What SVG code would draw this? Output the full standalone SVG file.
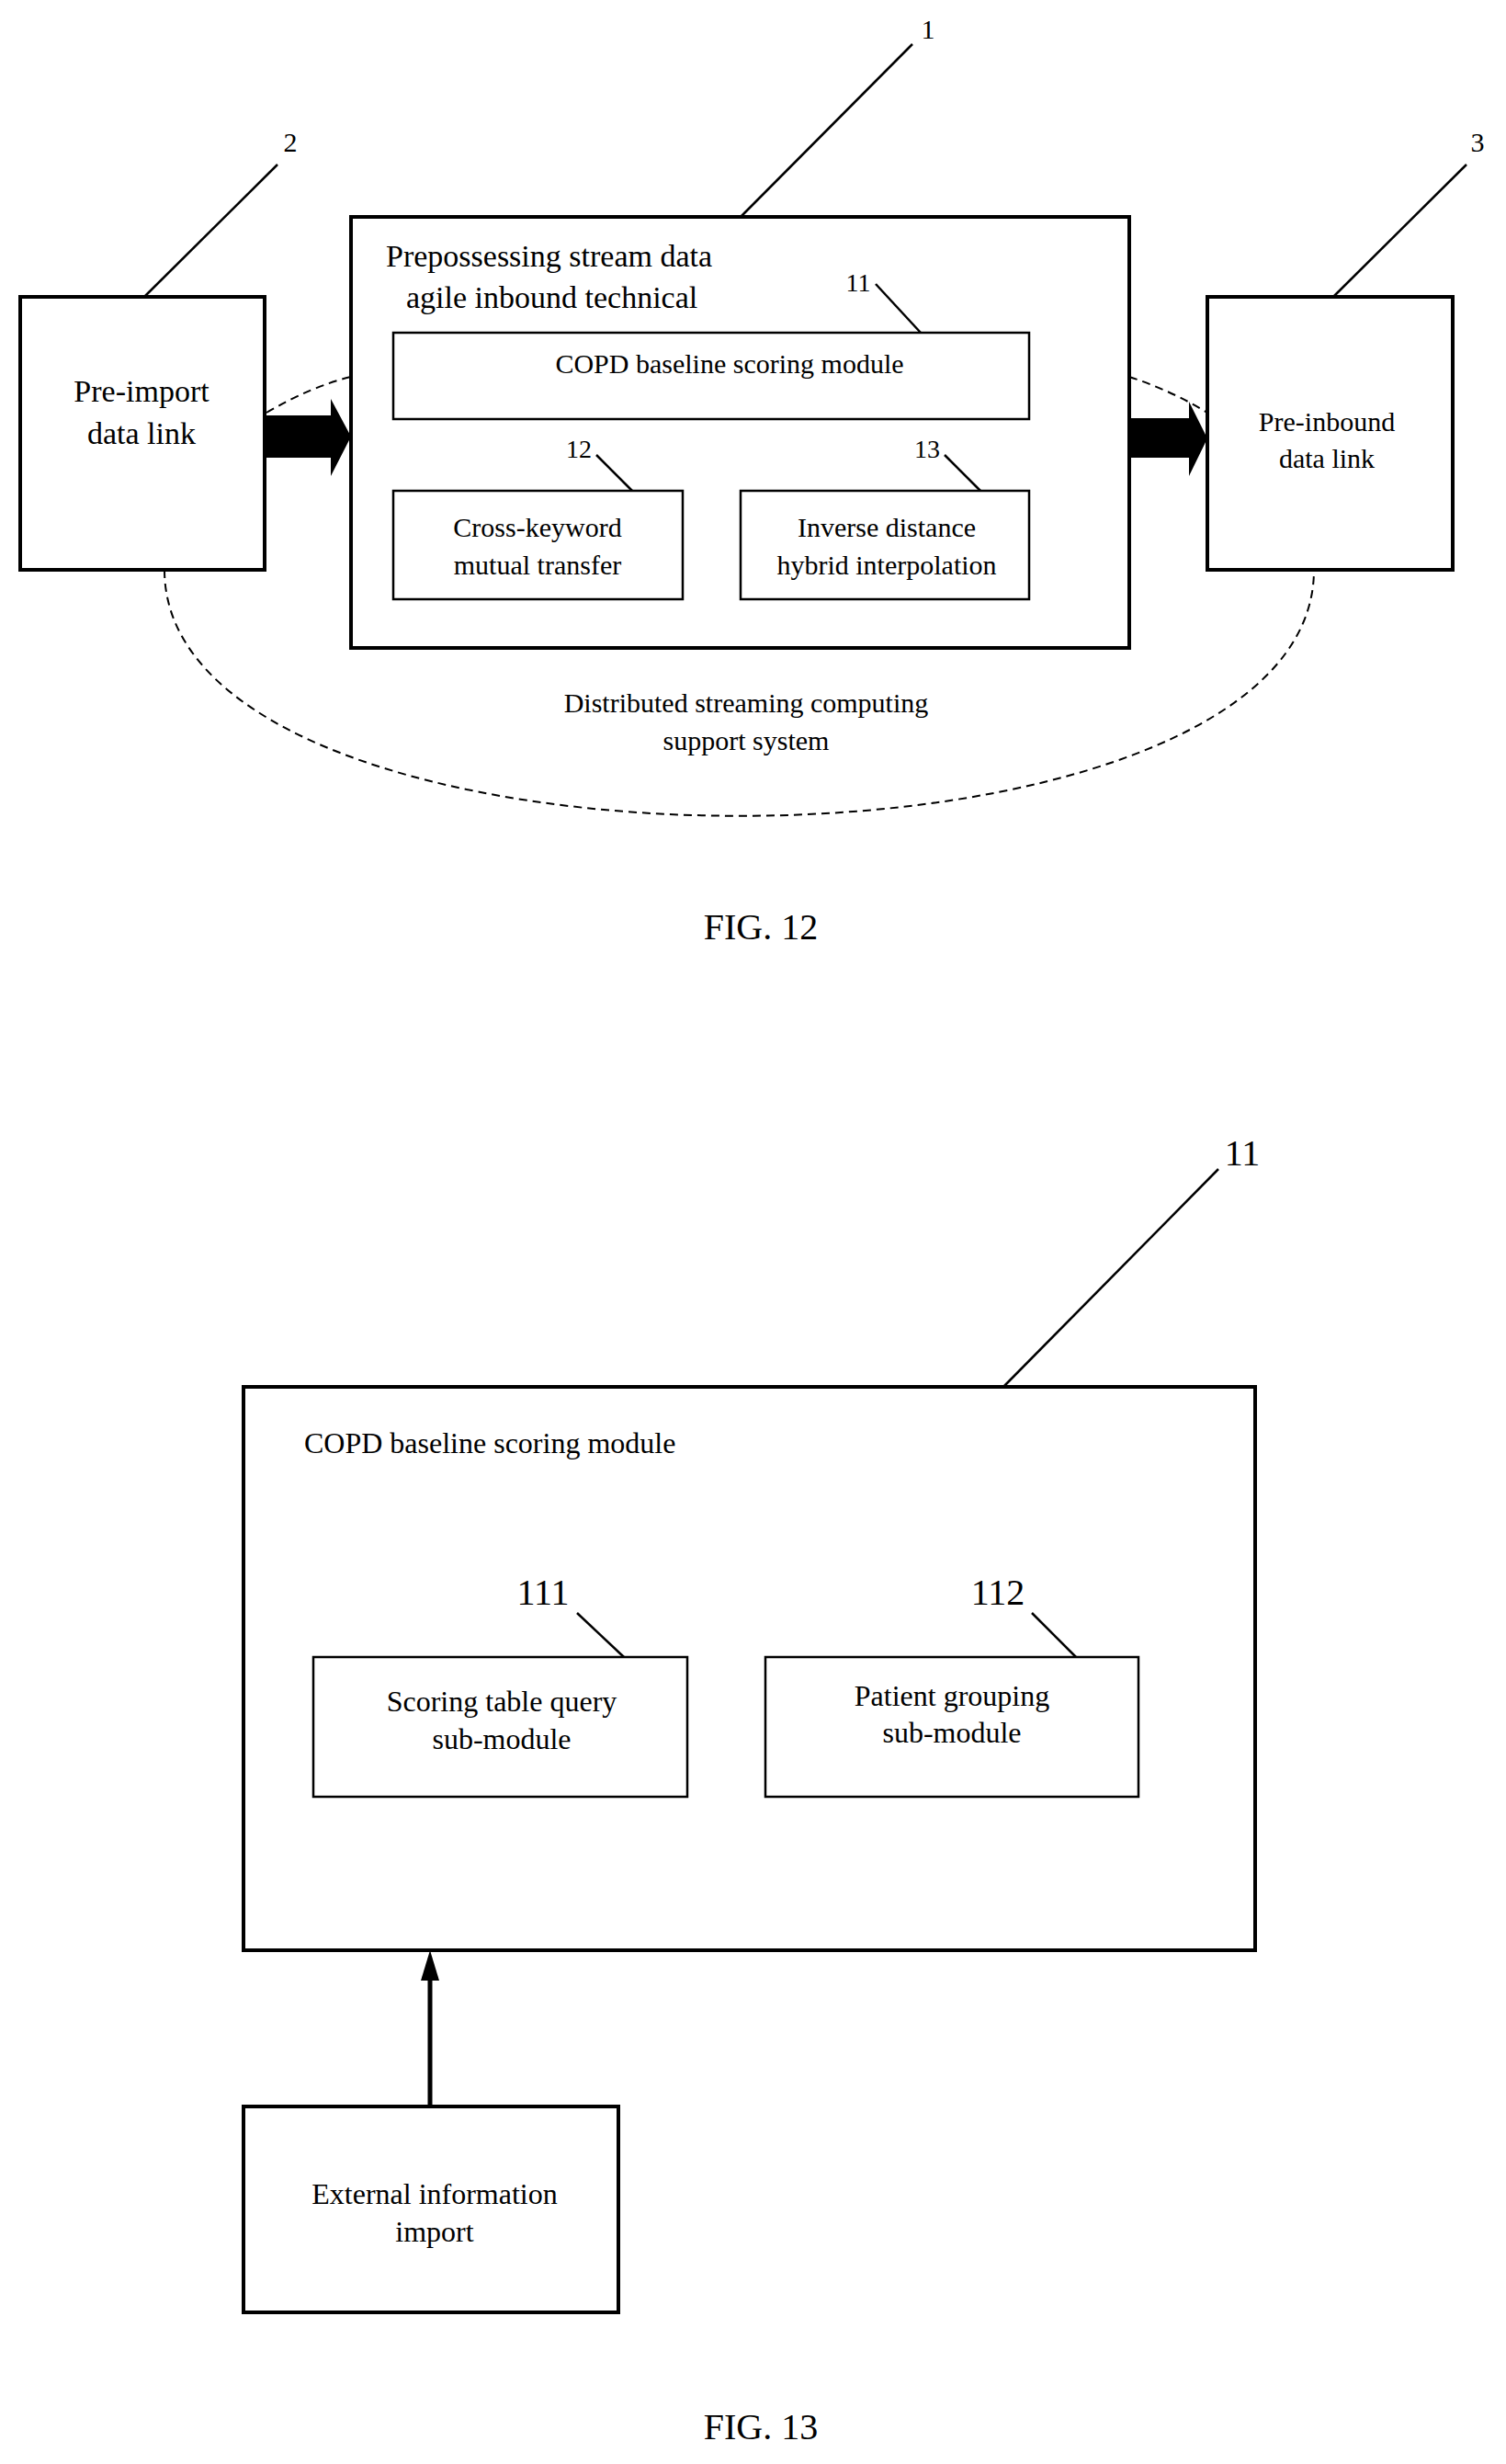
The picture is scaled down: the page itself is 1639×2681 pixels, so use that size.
<svg xmlns="http://www.w3.org/2000/svg" width="1639" height="2681" viewBox="0 0 1639 2681">
<style>
text{font-family:"Liberation Serif","Times New Roman",serif;fill:#000}
.b{fill:#fff;stroke:#000;stroke-width:4}
.t{fill:#fff;stroke:#000;stroke-width:2.5}
.l{stroke:#000;stroke-width:2.5;fill:none}
.d{stroke:#000;stroke-width:2;fill:none;stroke-dasharray:9,6}
.m{text-anchor:middle}
</style>
<rect width="1639" height="2681" fill="#fff"/>
<g id="dashes">
<path class="d" d="M179,620 C179,977 1430,977 1430,620"/>
<path class="d" d="M290,449 Q340,420 382,410"/>
<path class="d" d="M1229,410 Q1275,425 1314,449"/>
</g>
<g id="n2"><rect class="b" x="22" y="323" width="266" height="297"/>
<text class="m" x="154" y="437" font-size="34">Pre-import</text><text class="m" x="154" y="483" font-size="34">data link</text>
<text class="m" x="316" y="165" font-size="30">2</text></g>
<g id="n1"><rect class="b" x="382" y="236" width="847" height="469"/>
<text x="420" y="290" font-size="34">Prepossessing stream data</text>
<text x="442" y="335" font-size="34">agile inbound technical</text>
<text class="m" x="1010" y="42" font-size="30">1</text></g>
<g id="n11"><rect class="t" x="428" y="362" width="692" height="94"/>
<text class="m" x="794" y="406" font-size="30">COPD baseline scoring module</text>
<text class="m" x="934" y="317" font-size="28">11</text></g>
<g id="n12"><rect class="t" x="428" y="534" width="315" height="118"/>
<text class="m" x="585" y="584" font-size="30">Cross-keyword</text><text class="m" x="585" y="625" font-size="30">mutual transfer</text>
<text class="m" x="630" y="498" font-size="28">12</text></g>
<g id="n13"><rect class="t" x="806" y="534" width="314" height="118"/>
<text class="m" x="965" y="584" font-size="30">Inverse distance</text><text class="m" x="965" y="625" font-size="30">hybrid interpolation</text>
<text class="m" x="1009" y="498" font-size="28">13</text></g>
<g id="n3"><rect class="b" x="1314" y="323" width="267" height="297"/>
<text class="m" x="1444" y="469" font-size="30">Pre-inbound</text><text class="m" x="1444" y="509" font-size="30">data link</text>
<text class="m" x="1608" y="165" font-size="30">3</text></g>
<g id="sys"><text class="m" x="812" y="775" font-size="30">Distributed streaming  computing</text><text class="m" x="812" y="816" font-size="30">support system</text></g>
<text class="m" x="828" y="1022" font-size="40">FIG. 12</text>
<g id="m11"><rect class="b" x="265" y="1509" width="1101" height="613"/>
<text x="331" y="1581" font-size="32">COPD baseline scoring module</text>
<text class="m" x="1352" y="1268" font-size="40">11</text></g>
<g id="m111"><rect class="t" x="341" y="1803" width="407" height="152"/>
<text class="m" x="546" y="1862" font-size="32">Scoring table query</text><text class="m" x="546" y="1903" font-size="32">sub-module</text>
<text class="m" x="591" y="1746" font-size="40">111</text></g>
<g id="m112"><rect class="t" x="833" y="1803" width="406" height="152"/>
<text class="m" x="1036" y="1856" font-size="32">Patient grouping</text><text class="m" x="1036" y="1896" font-size="32">sub-module</text>
<text class="m" x="1086" y="1746" font-size="40">112</text></g>
<g id="ext"><rect class="b" x="265" y="2292" width="408" height="224"/>
<text class="m" x="473" y="2398" font-size="32">External information</text><text class="m" x="473" y="2439" font-size="32">import</text></g>
<text class="m" x="828" y="2654" font-size="40">FIG. 13</text>
<g id="connectors">
<path d="M288,452 H360 V434 L382,475 L360,518 V498 H288 Z" fill="#000"/>
<path d="M1229,455 H1294 V437 L1314,477 L1294,518 V498 H1229 Z" fill="#000"/>
<path class="l" d="M806,236 L993,48"/>
<path class="l" d="M157,323 L302,179"/>
<path class="l" d="M1451,323 L1596,179"/>
<path class="l" d="M953,309 L1002,362"/>
<path class="l" d="M649,495 L688,534"/>
<path class="l" d="M1028,495 L1067,534"/>
<path class="l" d="M1092,1509 L1326,1272"/>
<path class="l" d="M628,1755 L679,1803"/>
<path class="l" d="M1123,1755 L1171,1803"/>
<path d="M468,2292 V2150" stroke="#000" stroke-width="5"/>
<path d="M458,2155 L468,2122 L478,2155 Z" fill="#000"/>
</g>
</svg>
